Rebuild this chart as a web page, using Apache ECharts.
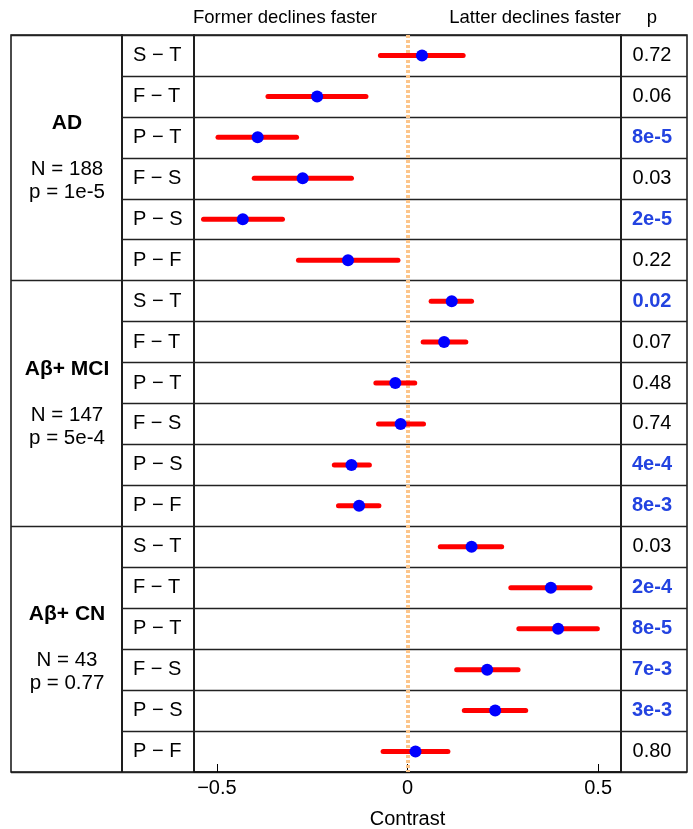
<!DOCTYPE html>
<html>
<head>
<meta charset="utf-8">
<script src="https://cdn.jsdelivr.net/npm/echarts@6/dist/echarts.min.js"></script>
<style>html,body{margin:0;padding:0;background:#fff}#c{width:693px;height:829px}</style>
</head>
<body>
<div id="c"></div>
<script>
const groups = ['AD', 'Aβ+ MCI', 'Aβ+ CN'];
const groupN = ['N = 188', 'N = 147', 'N = 43'];
const groupP = ['p = 1e-5', 'p = 5e-4', 'p = 0.77'];
const contrasts = ['S − T','F − T','P − T','F − S','P − S','P − F',
                   'S − T','F − T','P − T','F − S','P − S','P − F',
                   'S − T','F − T','P − T','F − S','P − S','P − F'];
const estimate = [0.038, -0.237, -0.393, -0.275, -0.432, -0.156,
                  0.116, 0.096, -0.032, -0.018, -0.147, -0.127,
                  0.168, 0.376, 0.395, 0.209, 0.230, 0.021];
const lower = [-0.071, -0.366, -0.497, -0.402, -0.535, -0.286,
               0.062, 0.041, -0.083, -0.076, -0.192, -0.181,
               0.086, 0.271, 0.292, 0.129, 0.149, -0.064];
const upper = [0.146, -0.109, -0.291, -0.147, -0.328, -0.025,
               0.168, 0.153, 0.019, 0.042, -0.100, -0.075,
               0.247, 0.479, 0.498, 0.290, 0.310, 0.106];
const pvals = ['0.72','0.06','8e-5','0.03','2e-5','0.22',
               '0.02','0.07','0.48','0.74','4e-4','8e-3',
               '0.03','2e-4','8e-5','7e-3','3e-3','0.80'];
const significant = [false,false,true,false,true,false,
                     true,false,false,false,true,true,
                     false,true,true,true,true,false];
const xTicks = [-0.5, 0, 0.5];

const FONT = '"Liberation Sans", Arial, sans-serif';
const rowIds = contrasts.map((_, i) => i);
const TOP = 35, HEIGHT = 737;

function gridDef(left, width) {
  return {left: left, width: width, top: TOP, height: HEIGHT, show: true,
          containLabel: false, outerBoundsMode: 'none',
          borderColor: '#111', borderWidth: 1.5, backgroundColor: 'transparent'};
}
function hiddenX(gi) {
  return {type: 'value', gridIndex: gi, show: false, min: 0, max: 1};
}
function catY(gi, data, label) {
  return {
    type: 'category', gridIndex: gi, data: data, inverse: true,
    axisLine: {show: false}, axisTick: {show: false},
    splitLine: {show: true, interval: 0, lineStyle: {color: '#222', width: 1.3}},
    axisLabel: Object.assign({inside: true, color: '#000', fontFamily: FONT, fontSize: 20}, label)
  };
}
const headStyle = {fontSize: 18.5, fontWeight: 'normal', color: '#000', fontFamily: FONT};

const chart = echarts.init(document.getElementById('c'), null, {renderer: 'canvas'});
chart.setOption({
  animation: false,
  backgroundColor: '#fff',
  textStyle: {fontFamily: FONT},
  title: [
    {text: 'Former declines faster', left: 193, top: 8, padding: 0, textStyle: headStyle},
    {text: 'Latter declines faster', right: 72, top: 8, padding: 0, textStyle: headStyle},
    {text: 'p', left: 652, textAlign: 'center', top: 8, padding: 0, textStyle: headStyle}
  ],
  grid: [gridDef(11, 111), gridDef(122, 72), gridDef(194, 427), gridDef(621, 66)],
  xAxis: [
    hiddenX(0), hiddenX(1),
    {
      type: 'value', gridIndex: 2, min: -0.56, max: 0.56,
      splitLine: {show: false},
      axisLine: {show: true, lineStyle: {color: '#111', width: 1.5}},
      axisTick: {show: true, inside: true, length: 8, customValues: xTicks,
                 lineStyle: {color: '#000', width: 1}},
      axisLabel: {customValues: xTicks, color: '#000', fontSize: 20, fontFamily: FONT, margin: 6,
                  formatter: v => String(v).replace('-', '\u2212')},
      name: 'Contrast', nameLocation: 'middle', nameGap: 37,
      nameTextStyle: {fontSize: 20, color: '#000', fontFamily: FONT}
    },
    hiddenX(3)
  ],
  yAxis: [
    catY(0, groups, {
      margin: 56, align: 'center',
      formatter: (v, i) => '{h|' + groups[i] + '}\n{s|}\n{n|' + groupN[i] + '}\n{n|' + groupP[i] + '}',
      rich: {
        h: {fontSize: 21, fontWeight: 'bold', color: '#000', fontFamily: FONT, lineHeight: 23},
        s: {fontSize: 20, lineHeight: 23},
        n: {fontSize: 20.5, color: '#000', fontFamily: FONT, lineHeight: 23}
      }
    }),
    catY(1, contrasts, {margin: 11, align: 'left'}),
    catY(2, rowIds, {show: false}),
    catY(3, pvals, {
      margin: 31, align: 'center',
      formatter: (v, i) => significant[i] ? '{b|' + pvals[i] + '}' : '{n|' + pvals[i] + '}',
      rich: {
        b: {fontSize: 20, fontWeight: 'bold', color: '#2343e0', fontFamily: FONT},
        n: {fontSize: 20, color: '#000', fontFamily: FONT}
      }
    })
  ],
  series: [
    {
      type: 'custom', xAxisIndex: 2, yAxisIndex: 2, z: 3,
      data: rowIds.map(i => [lower[i], upper[i], i]),
      encode: {x: [0, 1], y: 2},
      renderItem: function (params, api) {
        const a = api.coord([api.value(0), api.value(2)]);
        const b = api.coord([api.value(1), api.value(2)]);
        return {type: 'line', shape: {x1: a[0], y1: a[1], x2: b[0], y2: b[1]},
                style: {stroke: '#ff0000', lineWidth: 5, lineCap: 'round'}};
      }
    },
    {
      type: 'scatter', xAxisIndex: 2, yAxisIndex: 2, z: 4,
      symbol: 'circle', symbolSize: 12,
      itemStyle: {color: '#0000ff', opacity: 1},
      data: rowIds.map(i => [estimate[i], i]),
      markLine: {
        silent: true, symbol: ['none', 'none'], z: 1,
        label: {show: false},
        lineStyle: {color: '#fcc58a', width: 4, type: [3, 2], opacity: 1},
        data: [{xAxis: 0}]
      }
    }
  ]
});
</script>
</body>
</html>
